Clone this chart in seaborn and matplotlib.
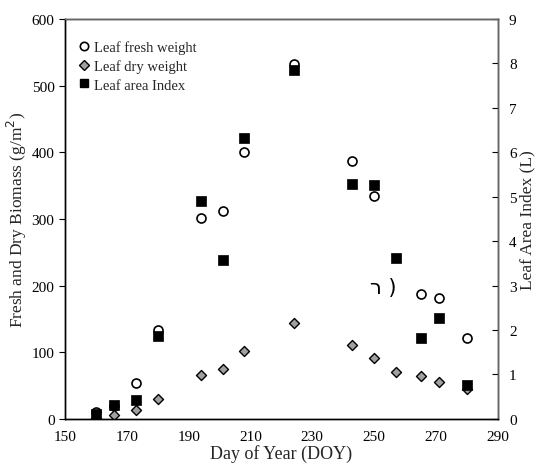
import numpy as np
import pandas as pd
import matplotlib
matplotlib.use("Agg")
import matplotlib.pyplot as plt
import seaborn as sns
from matplotlib.lines import Line2D

# Sampling days (day of year)
doy_fresh = [160, 166, 173, 180, 194, 201, 208, 224, 243, 250, 265, 271, 280]
fresh_weight = [11, 20, 54, 133, 301, 312, 401, 533, 387, 334, 187, 182, 121]

doy_dry = [160, 166, 173, 180, 194, 201, 208, 224, 243, 250, 257, 265, 271, 280]
dry_weight = [2, 6, 13.5, 29.5, 66, 74.5, 101.5, 144, 111.5, 92, 70.5, 65, 56, 45]

doy_lai = [160, 166, 173, 180, 194, 201, 208, 224, 243, 250, 257, 265, 271, 280]
lai = [0.1, 0.32, 0.43, 1.87, 4.9, 3.57, 6.33, 7.85, 5.28, 5.27, 3.61, 1.81, 2.26, 0.77]

x_ticks = [150, 170, 190, 210, 230, 250, 270, 290]
y_ticks = [0, 100, 200, 300, 400, 500, 600]
lai_ticks = list(range(0, 10))

df_fresh = pd.DataFrame({"doy": doy_fresh, "value": fresh_weight})
df_dry = pd.DataFrame({"doy": doy_dry, "value": dry_weight})
df_lai = pd.DataFrame({"doy": doy_lai, "value": lai})

sns.set_theme(style="white")
plt.rcParams["font.family"] = ["Liberation Serif", "DejaVu Serif"]

fig = plt.figure(figsize=(5.37, 4.64), dpi=100)
ax = fig.add_axes([0.121, 0.095, 0.806, 0.862])

sns.scatterplot(data=df_fresh, x="doy", y="value", ax=ax, marker="o",
                s=42, facecolor="white", edgecolor="black", linewidth=1.2,
                zorder=3, legend=False)
sns.scatterplot(data=df_dry, x="doy", y="value", ax=ax, marker="D",
                s=26, color="#a0a0a0", edgecolor="black", linewidth=1.0,
                zorder=3, legend=False)

ax2 = ax.twinx()
sns.scatterplot(data=df_lai, x="doy", y="value", ax=ax2, marker="s",
                s=48, color="black", edgecolor="black", linewidth=0.5,
                zorder=3, legend=False)

ax.set_xlim(150, 290)
ax.set_ylim(0, 600)
ax2.set_ylim(0, 9)
ax.set_xticks(x_ticks)
ax.set_yticks(y_ticks)
ax2.set_yticks(lai_ticks)

ax.set_xlabel("Day of Year (DOY)", fontsize=13, labelpad=1)
ax.set_ylabel("Fresh and Dry Biomass (g/m$^2$)", fontsize=12.5, labelpad=2)
ax2.set_ylabel("Leaf Area Index (L)", fontsize=12.5, labelpad=2)

for a in (ax, ax2):
    for sp in a.spines.values():
        sp.set_color("black")
        sp.set_linewidth(1.0)
ax2.spines["right"].set_color("#666666")
ax2.spines["top"].set_color("#666666")

ax.tick_params(axis="x", direction="in", length=4, width=0.8, labelsize=11,
               colors="black", pad=8)
ax.tick_params(axis="y", direction="out", length=4, width=0.8, labelsize=11,
               colors="black", left=True)
ax2.tick_params(axis="y", direction="in", length=4, width=0.8, labelsize=11,
                colors="black", right=True, pad=8)

handles = [
    Line2D([], [], marker="o", ls="none", markersize=6, markerfacecolor="white",
           markeredgecolor="black", markeredgewidth=1.2),
    Line2D([], [], marker="D", ls="none", markersize=5, markerfacecolor="#a0a0a0",
           markeredgecolor="black", markeredgewidth=1.0),
    Line2D([], [], marker="s", ls="none", markersize=6, markerfacecolor="black",
           markeredgecolor="black"),
]
labels = ["Leaf fresh weight", "Leaf dry weight", "Leaf area Index"]
ax2.legend(handles, labels, loc="upper left", bbox_to_anchor=(0.0, 0.975),
           frameon=False, fontsize=10.5, handletextpad=0.2, labelspacing=0.35,
           handlelength=1.0, borderaxespad=0.4)

ax.text(253, 198, "ר )", fontsize=15, family="DejaVu Sans", color="black",
        ha="center", va="center")

fig.savefig("out.png", dpi=100)
